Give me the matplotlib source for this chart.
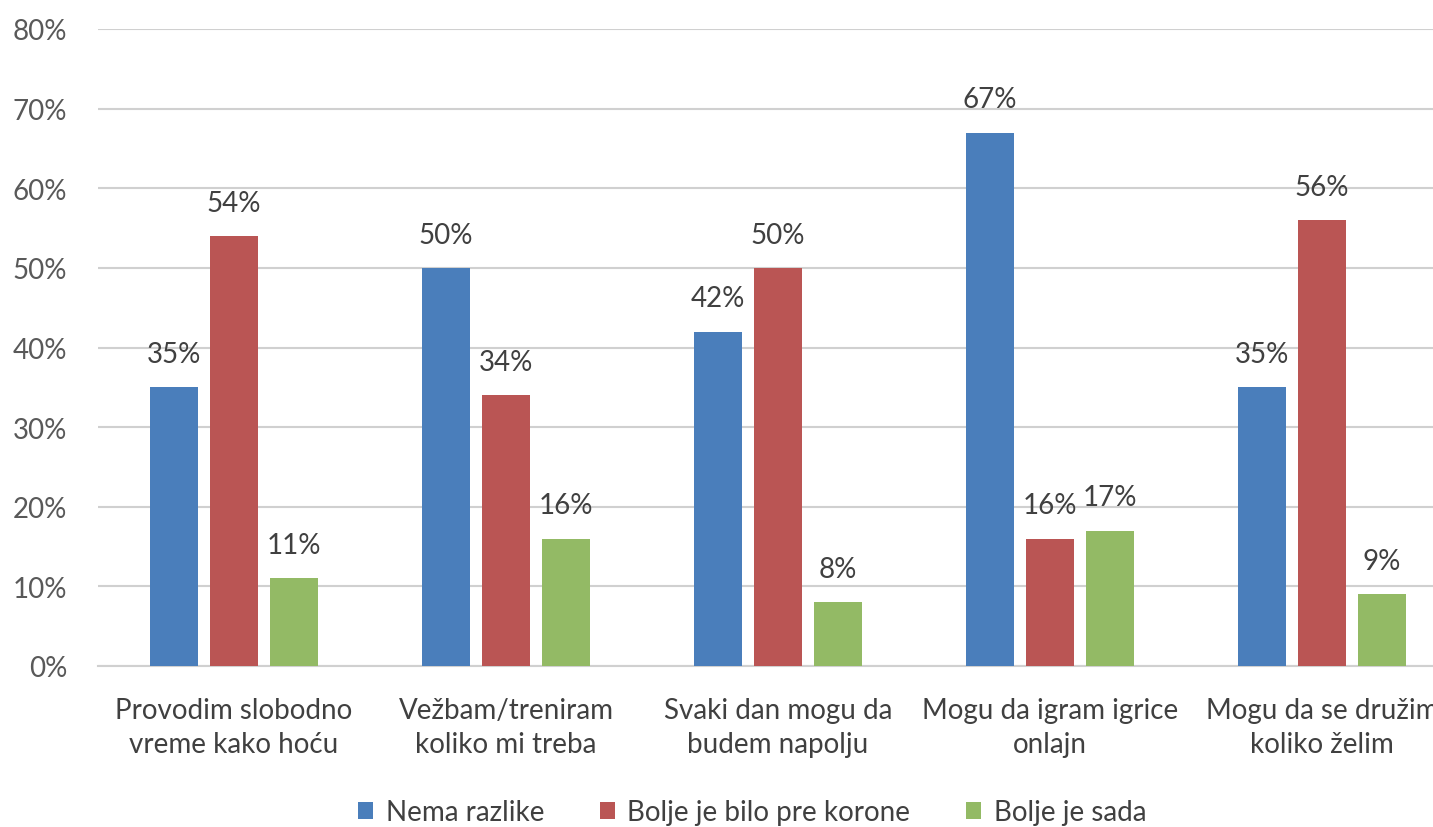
import matplotlib
matplotlib.use("Agg")
import matplotlib.pyplot as plt
import numpy as np
from matplotlib.ticker import FuncFormatter

plt.rcParams['font.family'] = ['Lato', 'DejaVu Sans']

categories = ["Provodim slobodno\nvreme kako hoću",
              "Vežbam/treniram\nkoliko mi treba",
              "Svaki dan mogu da\nbudem napolju",
              "Mogu da igram igrice\nonlajn",
              "Mogu da se družim\nkoliko želim"]
series_names = ["Nema razlike", "Bolje je bilo pre korone", "Bolje je sada"]
nema_razlike = [35, 50, 42, 67, 35]
bolje_pre = [54, 34, 50, 16, 56]
bolje_sada = [11, 16, 8, 17, 9]
yticks = [0, 10, 20, 30, 40, 50, 60, 70, 80]

colors = ["#4A7EBB", "#BA5554", "#93BA65"]
W, H = 1433, 828
fig = plt.figure(figsize=(W/100, H/100), dpi=100)
left, right = 98, 1458
bottom, top = 667, 30
ax = fig.add_axes([left/W, 1-bottom/H, (right-left)/W, (bottom-top)/H])

FS = 20
x = np.arange(len(categories))
bw = 48/272
step = 60/272
for i, (vals, name, c) in enumerate(zip([nema_razlike, bolje_pre, bolje_sada], series_names, colors)):
    pos = x + (i-1)*step
    ax.bar(pos, vals, width=bw, color=c, label=name, zorder=3)
    for p, v in zip(pos, vals):
        ax.annotate(f"{v}%", (p, v), xytext=(0, 24), textcoords="offset points",
                    ha="center", va="center", fontsize=FS, color="#404040")

ax.set_xlim(-0.5, 4.5)
ax.set_ylim(0, 80)
ax.set_yticks(yticks)
ax.yaxis.set_major_formatter(FuncFormatter(lambda v, p: f"{int(v)}%"))
ax.grid(axis='y', color="#D0D0D0", linewidth=1.5, zorder=0)
for s in ["top", "right", "left"]:
    ax.spines[s].set_visible(False)
ax.spines["bottom"].set_color("#D0D0D0")
ax.spines["bottom"].set_linewidth(1.5)
ax.tick_params(axis='y', length=0, pad=22, labelsize=FS, labelcolor="#595959")
ax.tick_params(axis='x', length=0, pad=22, labelsize=FS, labelcolor="#404040")
ax.set_xticks(x)
ax.set_xticklabels(categories, linespacing=1.38)

handles, labels = ax.get_legend_handles_labels()
fig.legend(handles, labels, loc="center", bbox_to_anchor=(752/W, 1-813/H), ncol=3,
           frameon=False, fontsize=FS, labelcolor="#404040", handlelength=0.55,
           handleheight=0.55, handletextpad=0.45, columnspacing=2.0)

fig.savefig("out.png", dpi=100)
